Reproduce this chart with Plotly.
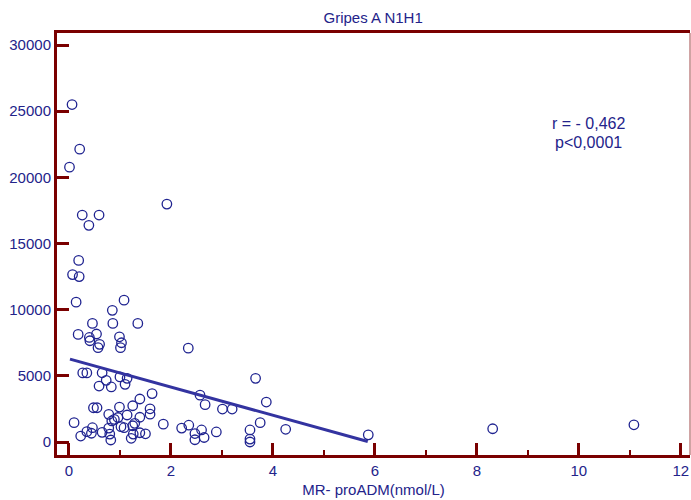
import plotly.graph_objects as go

# MR-proADM (nmol/L) against the second variable, one point per patient
mr_proadm = [
    0.06, 0.21, 0.01, 0.26, 0.59, 0.39, 1.92, 0.19, 0.07, 0.20,
    0.14, 1.08, 0.85, 0.46, 0.86, 1.35, 0.18, 0.40, 0.54, 0.41,
    0.60, 0.57, 0.99, 1.03, 1.01, 2.34, 0.27, 0.35, 0.65, 0.73,
    0.59, 0.83, 1.00, 1.14, 1.10, 3.66, 2.57, 2.67, 3.01, 3.20,
    3.87, 3.75, 4.25, 5.87, 8.31, 11.08, 0.48, 0.55, 0.99, 1.25,
    1.39, 1.63, 1.59, 1.59, 0.78, 0.96, 1.14, 1.39, 0.10, 0.84,
    0.89, 1.02, 1.25, 1.29, 1.08, 1.85, 2.21, 2.35, 2.60, 2.47,
    2.65, 2.47, 2.89, 3.55, 3.55, 3.55, 0.46, 0.35, 0.44, 0.23,
    0.65, 0.78, 0.80, 0.82, 1.26, 1.22, 1.39, 1.50,
]
values = [
    25500, 22130, 20770, 17150, 17150, 16370, 17980, 13720, 12650, 12500,
    10570, 10720, 9950, 8960, 8960, 8960, 8130, 7900, 8160, 7650,
    7380, 7130, 7950, 7500, 7130, 7090, 5220, 5220, 5230, 4660,
    4230, 4160, 4920, 4810, 4360, 4810, 3540, 2820, 2490, 2490,
    3020, 1460, 960, 540, 1000, 1300, 2590, 2590, 2640, 2740,
    3250, 3660, 2510, 2100, 2090, 1850, 2040, 1870, 1460, 1590,
    1710, 1160, 1230, 1410, 1080, 1350, 1050, 1270, 910, 640,
    340, 170, 760, 910, 220, 0, 1080, 780, 660, 450,
    730, 1050, 600, 150, 600, 280, 700, 620,
]

# fitted regression line end points
fit_x = [0.02, 5.86]
fit_y = [6260, 40]

x_ticks = [0, 2, 4, 6, 8, 10, 12]
y_ticks = [0, 5000, 10000, 15000, 20000, 25000, 30000]

NAVY = "#23238a"
AXIS = "#7a0000"
FONT = "Liberation Sans, Arial, sans-serif"

fig = go.Figure()
fig.add_trace(go.Scatter(
    x=mr_proadm, y=values, mode="markers",
    marker=dict(symbol="circle-open", size=9.5, color="#1f2390",
                line=dict(width=1.3, color="#1f2390")),
    showlegend=False,
))
fig.add_trace(go.Scatter(
    x=fit_x, y=fit_y, mode="lines",
    line=dict(color="#3333a0", width=3),
    showlegend=False,
))

fig.add_annotation(x=10.18, y=24050, text="r = - 0,462", showarrow=False,
                   font=dict(size=16, color=NAVY, family=FONT))
fig.add_annotation(x=10.18, y=22600, text="p<0,0001", showarrow=False,
                   font=dict(size=16, color=NAVY, family=FONT))

# thin right-hand border of the frame
fig.add_shape(type="line", xref="paper", yref="paper", x0=1, x1=1, y0=0, y1=1,
              line=dict(color="#a04848", width=1))

fig.update_layout(
    width=691, height=500,
    margin=dict(l=57, r=1, t=33, b=45),
    paper_bgcolor="white", plot_bgcolor="white",
    font=dict(family=FONT, color=NAVY, size=15),
    title=dict(text="Gripes A N1H1", x=0.54, xanchor="center", y=0.965,
               yanchor="middle", font=dict(size=15, color=NAVY, family=FONT)),
    xaxis=dict(
        range=[-0.235, 12.18], tickvals=x_ticks, ticktext=[str(v) for v in x_ticks],
        showgrid=False, zeroline=False,
        showline=True, linecolor=AXIS, linewidth=3, mirror=True,
        ticks="inside", ticklen=12, tickwidth=2.5, tickcolor=AXIS,
        minor=dict(ticks="inside", ticklen=5, tickwidth=2, tickcolor=AXIS, dtick=1, showgrid=False),
        tickfont=dict(size=15, color=NAVY, family=FONT),
        title=dict(text="MR- proADM(nmol/L)", standoff=7,
                   font=dict(size=15, color=NAVY, family=FONT)),
    ),
    yaxis=dict(
        range=[-982, 30907], tickvals=y_ticks, ticktext=[str(v) for v in y_ticks],
        showgrid=False, zeroline=False,
        showline=True, linecolor=AXIS, linewidth=3, mirror=False,
        ticks="inside", ticklen=12, tickwidth=2.5, tickcolor=AXIS,
        tickfont=dict(size=15, color=NAVY, family=FONT),
    ),
)

fig.write_html("out.html")
